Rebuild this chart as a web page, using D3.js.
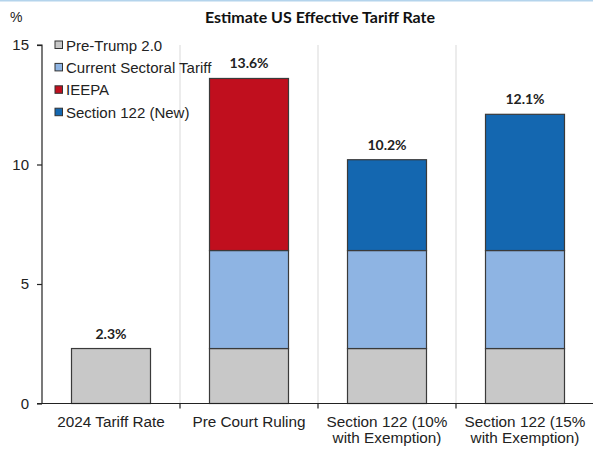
<!DOCTYPE html>
<html>
<head>
<meta charset="utf-8">
<script src="https://cdn.jsdelivr.net/npm/d3@7"></script>
<style>
  body { margin: 0; background: #fff; }
  svg { display: block; }
</style>
</head>
<body>
<div id="chart"></div>
<script>
// donnees
var categories = ["2024 Tariff Rate", "Pre Court Ruling", "Section 122 (10%|with Exemption)", "Section 122 (15%|with Exemption)"];
var series = ["Pre-Trump 2.0", "Current Sectoral Tariff", "IEEPA", "Section 122 (New)"];
var preTrump = [2.3, 2.3, 2.3, 2.3];
var sectoral = [0, 4.1, 4.1, 4.1];
var ieepa = [0, 7.2, 0, 0];
var section122 = [0, 0, 3.8, 5.7];
var totals = ["2.3%", "13.6%", "10.2%", "12.1%"];
var yTicks = [0, 5, 10, 15];

var couleurs = ["#c8c8c8", "#8eb4e3", "#c00f1e", "#1467b0"];

var largeur = 593, hauteur = 449;
var marge = {gauche: 42, droite: 0, haut: 45, bas: 45.5};

var svg = d3.select("#chart").append("svg").attr("width", largeur).attr("height", hauteur);

// ligne bleue en haut
svg.append("rect").attr("x", 0).attr("y", 0).attr("width", largeur).attr("height", 1.5).style("fill", "#b4d4ec");

var x = d3.scaleBand().domain(categories).range([marge.gauche, 594]).paddingInner(0).paddingOuter(0);
var y = d3.scaleLinear().domain([0, 15]).range([hauteur - marge.bas, marge.haut]);

var lignes = categories.map(function(c, i) {
  return {cat: c, "Pre-Trump 2.0": preTrump[i], "Current Sectoral Tariff": sectoral[i], "IEEPA": ieepa[i], "Section 122 (New)": section122[i]};
});
var pile = d3.stack().keys(series)(lignes);

// separateurs verticaux
svg.selectAll(".sep").data(categories.slice(1)).enter().append("line")
  .attr("x1", function(d) { return x(d); }).attr("x2", function(d) { return x(d); })
  .attr("y1", y(15)).attr("y2", y(0))
  .style("stroke", "#d9d9d9").style("stroke-width", 1);

var barW = 79;
var groupes = svg.selectAll(".serie").data(pile).enter().append("g")
  .style("fill", function(d, i) { return couleurs[i]; });

groupes.selectAll("rect").data(function(d) { return d.filter(function(p) { return p[1] - p[0] > 0; }); })
  .enter().append("rect")
  .attr("x", function(d) { return x(d.data.cat) + x.bandwidth() / 2 - barW / 2; })
  .attr("y", function(d) { return y(d[1]); })
  .attr("width", barW)
  .attr("height", function(d) { return y(d[0]) - y(d[1]); })
  .style("stroke", "#3a3a3a").style("stroke-width", 1.2);

// totaux au dessus des barres
svg.selectAll(".total").data(categories).enter().append("text")
  .attr("x", function(d) { return x(d) + x.bandwidth() / 2; })
  .attr("y", function(d, i) { return y(preTrump[i] + sectoral[i] + ieepa[i] + section122[i]) - 10; })
  .attr("text-anchor", "middle")
  .style("font-family", "Lato, sans-serif").style("font-weight", "bold").style("font-size", "14px").style("fill", "#222")
  .text(function(d, i) { return totals[i]; });

// axe y
var axeY = svg.append("g").attr("transform", "translate(" + marge.gauche + ",0)")
  .call(d3.axisLeft(y).tickValues(yTicks).tickSize(5).tickPadding(8));
axeY.select(".domain").attr("d", "M-5," + y(15) + "H0V" + y(0));
axeY.selectAll("text").style("font-family", "'Liberation Sans', Arial, sans-serif").style("font-size", "15px").style("fill", "#222");
axeY.selectAll("line, path").style("stroke", "#222").style("stroke-width", 1.2);

// axe x
var axeX = svg.append("g").attr("transform", "translate(0," + y(0) + ")");
axeX.append("line").attr("x1", marge.gauche - 5).attr("x2", largeur).style("stroke", "#222").style("stroke-width", 1.2);
axeX.selectAll(".tick").data(categories.slice(1)).enter().append("line")
  .attr("x1", function(d) { return x(d); }).attr("x2", function(d) { return x(d); })
  .attr("y1", 0).attr("y2", 5).style("stroke", "#222").style("stroke-width", 1.2);

axeX.selectAll(".lab").data(categories).enter().append("text")
  .attr("x", function(d) { return x(d) + x.bandwidth() / 2; })
  .attr("text-anchor", "middle")
  .style("font-family", "'Liberation Sans', Arial, sans-serif").style("font-size", "15.3px").style("fill", "#222")
  .each(function(d) {
    var parts = d.split("|");
    var t = d3.select(this);
    parts.forEach(function(p, k) {
      t.append("tspan").attr("x", x(d) + x.bandwidth() / 2).attr("y", 23.5 + k * 16).text(p);
    });
  });

// titre et unite
svg.append("text").attr("x", 320).attr("y", 22.5).attr("text-anchor", "middle")
  .style("font-family", "Lato, sans-serif").style("font-weight", "bold").style("font-size", "16px").style("fill", "#111")
  .text("Estimate US Effective Tariff Rate");
svg.append("text").attr("x", 10).attr("y", 22)
  .style("font-family", "'Liberation Sans', Arial, sans-serif").style("font-size", "14px").style("fill", "#222")
  .text("%");

// legende
var legende = svg.selectAll(".leg").data(series).enter().append("g")
  .attr("transform", function(d, i) { return "translate(55," + (45 + i * 22.4) + ")"; });
legende.append("rect").attr("x", 0).attr("y", -4).attr("width", 7.5).attr("height", 7.5)
  .style("fill", function(d, i) { return couleurs[i]; }).style("stroke", "#333").style("stroke-width", 1);
legende.append("text").attr("x", 11).attr("y", 5.5)
  .style("font-family", "'Liberation Sans', Arial, sans-serif").style("font-size", "15px").style("fill", "#222")
  .text(function(d) { return d; });
</script>
</body>
</html>
